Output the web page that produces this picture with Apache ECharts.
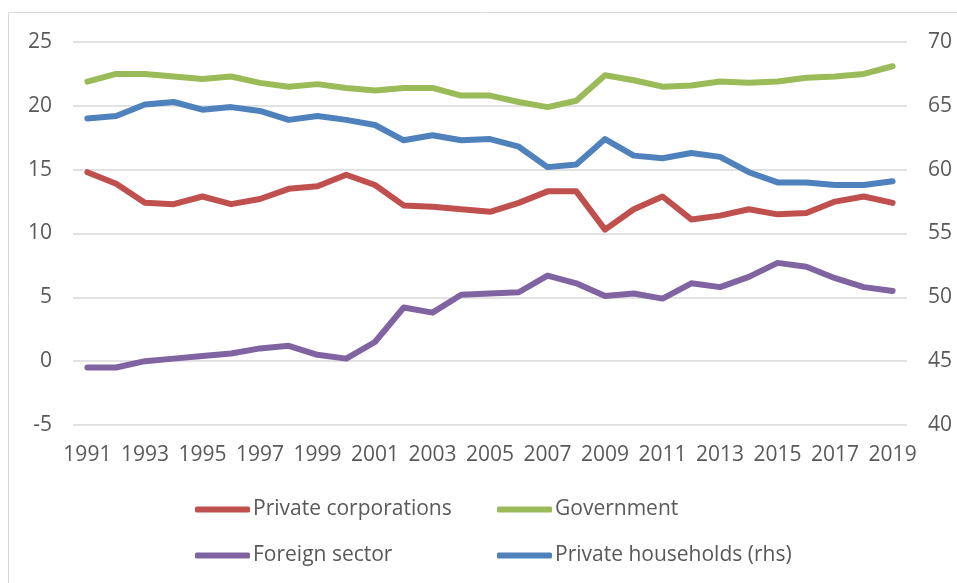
<!DOCTYPE html>
<html>
<head>
<meta charset="utf-8">
<script src="https://cdn.jsdelivr.net/npm/echarts@6/dist/echarts.min.js"></script>
<style>
  html, body { margin: 0; padding: 0; background: #fff; }
  #chart { width: 957px; height: 583px; }
</style>
</head>
<body>
<div id="chart"></div>
<script>
// 데이터
var years = [
  '1991', '1992', '1993', '1994', '1995', '1996', '1997', '1998', '1999', '2000',
  '2001', '2002', '2003', '2004', '2005', '2006', '2007', '2008', '2009', '2010',
  '2011', '2012', '2013', '2014', '2015', '2016', '2017', '2018', '2019'
];

var privateCorporations = [
  14.8, 13.9, 12.4, 12.3, 12.9, 12.3, 12.7, 13.5, 13.7, 14.6,
  13.8, 12.2, 12.1, 11.9, 11.7, 12.4, 13.3, 13.3, 10.3, 11.9,
  12.9, 11.1, 11.4, 11.9, 11.5, 11.6, 12.5, 12.9, 12.4
];

var government = [
  21.9, 22.5, 22.5, 22.3, 22.1, 22.3, 21.8, 21.5, 21.7, 21.4,
  21.2, 21.4, 21.4, 20.8, 20.8, 20.3, 19.9, 20.4, 22.4, 22.0,
  21.5, 21.6, 21.9, 21.8, 21.9, 22.2, 22.3, 22.5, 23.1
];

var foreignSector = [
  -0.5, -0.5, 0.0, 0.2, 0.4, 0.6, 1.0, 1.2, 0.5, 0.2,
  1.5, 4.2, 3.8, 5.2, 5.3, 5.4, 6.7, 6.1, 5.1, 5.3,
  4.9, 6.1, 5.8, 6.6, 7.7, 7.4, 6.5, 5.8, 5.5
];

var privateHouseholds = [
  64.0, 64.2, 65.1, 65.3, 64.7, 64.9, 64.6, 63.9, 64.2, 63.9,
  63.5, 62.3, 62.7, 62.3, 62.4, 61.8, 60.2, 60.4, 62.4, 61.1,
  60.9, 61.3, 61.0, 59.8, 59.0, 59.0, 58.8, 58.8, 59.1
];

var labelFont = 'Open Sans';
var labelColor = '#595959';

var chart = echarts.init(document.getElementById('chart'));

function lineSeries(name, data, color, axisIndex) {
  return {
    name: name,
    type: 'line',
    yAxisIndex: axisIndex,
    data: data,
    showSymbol: false,
    symbol: 'none',
    lineStyle: { color: color, width: 6, cap: 'round', join: 'round' },
    itemStyle: { color: color },
    emphasis: { disabled: true }
  };
}

var legendText = { fontFamily: labelFont, fontSize: 21, color: labelColor, padding: [0, 0, 0, -2] };

var option = {
  animation: false,
  graphic: [{
    type: 'rect',
    shape: { x: 8.5, y: 12.5, width: 1000, height: 700 },
    style: { fill: 'none', stroke: '#D9D9D9', lineWidth: 1 },
    silent: true
  }],
  grid: { left: 73, right: 50, top: 42, bottom: 158 },
  legend: [
    {
      orient: 'vertical',
      left: 190,
      top: 494,
      itemGap: 25,
      itemWidth: 55,
      itemHeight: 6,
      icon: 'roundRect',
      textStyle: legendText,
      data: ['Private corporations', 'Foreign sector']
    },
    {
      orient: 'vertical',
      left: 492,
      top: 494,
      itemGap: 25,
      itemWidth: 55,
      itemHeight: 6,
      icon: 'roundRect',
      textStyle: legendText,
      data: ['Government', 'Private households (rhs)']
    }
  ],
  xAxis: {
    type: 'category',
    data: years,
    boundaryGap: true,
    axisLine: { show: false },
    axisTick: { show: false },
    axisLabel: {
      interval: 1,
      margin: 20,
      fontFamily: labelFont,
      fontSize: 21,
      color: labelColor
    }
  },
  yAxis: [
    {
      type: 'value',
      min: -5,
      max: 25,
      interval: 5,
      axisLine: { show: false },
      axisTick: { show: false },
      axisLabel: { margin: 21, fontFamily: labelFont, fontSize: 21, color: labelColor },
      splitLine: { lineStyle: { color: '#D9D9D9', width: 1.5 } }
    },
    {
      type: 'value',
      min: 40,
      max: 70,
      interval: 5,
      position: 'right',
      axisLine: { show: false },
      axisTick: { show: false },
      axisLabel: { margin: 21, fontFamily: labelFont, fontSize: 21, color: labelColor },
      splitLine: { show: false }
    }
  ],
  series: [
    lineSeries('Private corporations', privateCorporations, '#C0504D', 0),
    lineSeries('Government', government, '#9BBB59', 0),
    lineSeries('Foreign sector', foreignSector, '#8064A2', 0),
    lineSeries('Private households (rhs)', privateHouseholds, '#4F81BD', 1)
  ]
};

chart.setOption(option);
</script>
</body>
</html>
